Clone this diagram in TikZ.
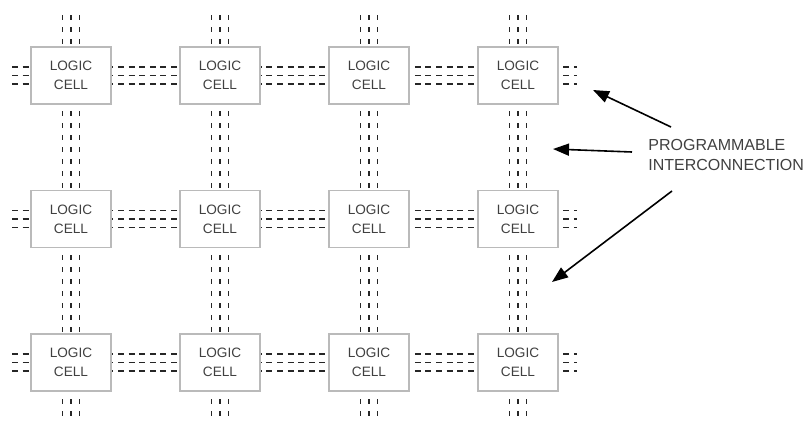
\documentclass[tikz,border=0pt]{standalone}
\usepackage{fontspec}
\setmainfont{Liberation Sans}
\usetikzlibrary{arrows.meta}

\begin{document}
\begin{tikzpicture}[
  x=0.5pt, y=-0.5pt,
  cell/.style={draw=black!27, fill=white, line width=0.8pt, minimum width=40pt,
               minimum height=28.5pt, inner sep=0pt, align=center, text=black!75,
               font=\fontsize{6.8}{9.5}\selectfont},
  vbus/.style={line width=0.95pt, black!85, dash pattern=on 2.6pt off 3.4pt},
  hbus/.style={line width=0.95pt, black!85, dash pattern=on 3pt off 2.3pt},
  arr/.style={-{Triangle[length=8pt,width=6pt]}, line width=0.8pt}
]
\useasboundingbox (0,0) rectangle (803,423);
% bus lines behind the cells
\foreach \x in {71,220,369,518}
  \foreach \d in {-8.5,0,8.5}
    \draw[vbus] (\x+\d,15) -- (\x+\d,420);
\foreach \y in {75.5,219,362.5}
  \foreach \d in {-8.5,0,8.5}
    \draw[hbus] (12,\y+\d) -- (577,\y+\d);
% logic cells
\foreach \r/\y in {1/75.5,2/219,3/362.5}
  \foreach \c/\x in {1/71,2/220,3/369,4/518}
    \node[cell] (cell\r\c) at (\x,\y) {LOGIC\\CELL};
% label and arrows
\node[anchor=west, align=left, inner sep=0pt, text=black!75,
      font=\fontsize{8}{10}\selectfont] (prog) at (648,155)
  {PROGRAMMABLE\\INTERCONNECTION};
\coordinate (tailA) at (671,127);
\coordinate (tipA) at (593,90);
\coordinate (tailB) at (632,152);
\coordinate (tipB) at (553,149);
\coordinate (tailC) at (672,191);
\coordinate (tipC) at (552,282);
\draw[arr] (tailA) -- (tipA);
\draw[arr] (tailB) -- (tipB);
\draw[arr] (tailC) -- (tipC);
\end{tikzpicture}
\end{document}
